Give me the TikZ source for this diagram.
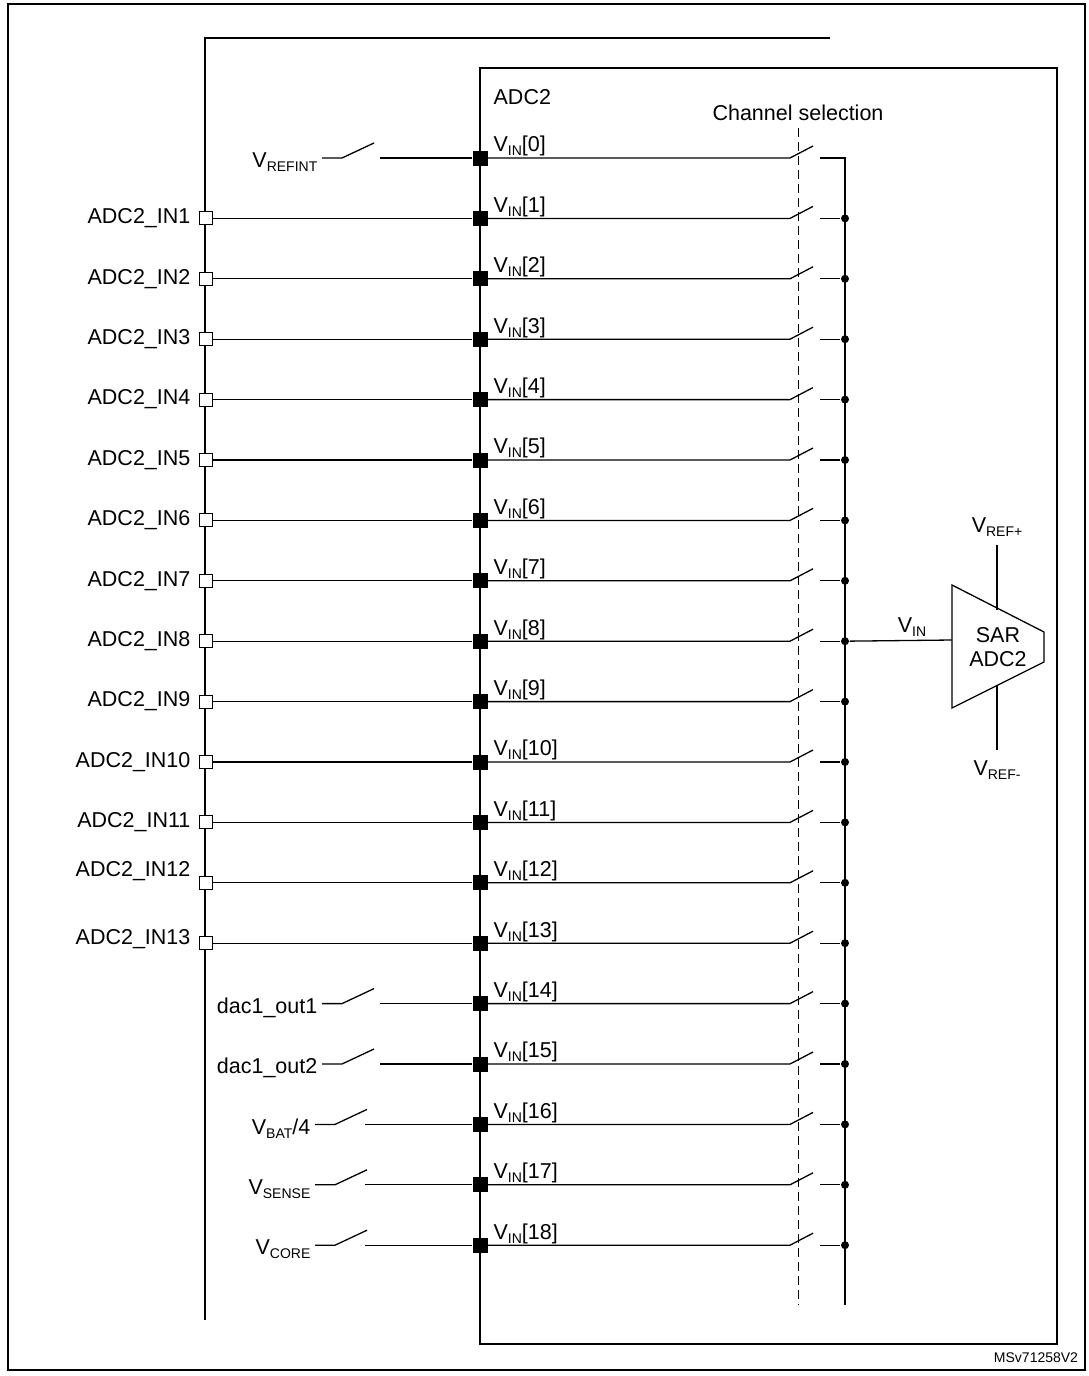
\documentclass[tikz,border=0pt]{standalone}
\usepackage{fontspec}
\setmainfont{Liberation Sans}
\newcommand{\sbs}[1]{\raisebox{-0.35ex}{\fontsize{14}{14}\selectfont #1}}
\begin{document}
\begin{tikzpicture}[x=1pt,y=-1pt,line width=1.3pt,
  txt/.style={font=\fontsize{21.5}{22}\selectfont, inner sep=1pt},
  pin/.style={draw,fill=white,minimum size=13pt,inner sep=0pt,line width=0.9pt},
  pad/.style={fill=black,minimum size=15pt,inner sep=0pt},
  dot/.style={circle,fill=black,minimum size=8pt,inner sep=0pt}]
\useasboundingbox (0,0) rectangle (1089,1376);
\draw (8,4) -- (1085,4) -- (1085,1370) -- (8,1370) -- cycle;
\draw (830,38) -- (205,38) -- (205,1320);
\draw (480,68) rectangle (1057,1344);
\node[txt,anchor=west] (adc) at (492,97) {ADC2};
\node[txt] (chs) at (798,113) {Channel selection};
\draw[dash pattern=on 9pt off 5pt,line width=1pt] (798,128) -- (798,1305);
\draw (820,158) -- (845,158) -- (845,1305);
\foreach \i in {0,...,18}{
  \pgfmathsetmacro{\y}{158+60.4*\i}
  \node[pad] (p\i) at (480,\y) {};
  \node[txt,anchor=south west] (l\i) at (492,\y) {V\sbs{IN}[\i]};
  \coordinate (s\i) at (790,\y);
  \coordinate (e\i) at (820,\y);
  \draw (p\i) -- (s\i) -- ++(23,-12);
  \ifnum\i>0
    \node[dot] (d\i) at (845,\y) {};
    \draw (e\i) -- (d\i);
  \fi
}
\foreach \i in {1,...,13}{
  \pgfmathsetmacro{\y}{158+60.4*\i}
  \node[pin] (q\i) at (206,\y) {};
  \draw (q\i) -- (p\i);
}
\foreach \i in {1,...,11}{
  \node[txt,anchor=east] at ([xshift=-7pt]q\i.west) {ADC2\_IN\i};
}
\node[txt,anchor=east] at ([xshift=-7pt,yshift=12pt]q12.west) {ADC2\_IN12};
\node[txt,anchor=east] at ([xshift=-7pt,yshift=4pt]q13.west) {ADC2\_IN13};
% internal sources
\foreach \i/\lab/\xa/\xb in {0/{V\sbs{REFINT}}/322/380, 14/{dac1\_out1}/322/380, 15/{dac1\_out2}/322/380, 16/{V\sbs{BAT}/4}/315/365, 17/{V\sbs{SENSE}}/315/365, 18/{V\sbs{CORE}}/315/365}{
  \pgfmathsetmacro{\y}{158+60.4*\i}
  \coordinate (a\i) at (\xa,\y);
  \coordinate (b\i) at (\xb,\y);
  \node[txt,anchor=east] (src\i) at ([xshift=-3pt,yshift=-4pt]a\i) {\lab};
  \draw (a\i) -- ++(20,0) -- ++(32,-15);
  \draw (b\i) -- (p\i);
}
% SAR ADC
\coordinate (t1) at (952,585);
\coordinate (t2) at (952,708);
\coordinate (t3) at (1044,632);
\coordinate (t4) at (1044,662);
\draw (t1) -- (t3) -- (t4) -- (t2) -- cycle;
\node[txt,align=center,font=\fontsize{21.5}{24}\selectfont] (sar) at (998,647) {SAR\\ADC2};
\draw (d8) -- (952,640) coordinate (vin);
\node[txt] (vinl) at (912,627) {V\sbs{IN}};
\node[txt] (vp) at (997,527) {V\sbs{REF+}};
\node[txt] (vm) at (997,770) {V\sbs{REF-}};
\draw (997,545) -- (997,610);
\draw (997,685) -- (997,750);
\node[font=\fontsize{14}{15}\selectfont,anchor=east] (ms) at (1082,1358) {MSv71258V2};
\end{tikzpicture}
\end{document}
